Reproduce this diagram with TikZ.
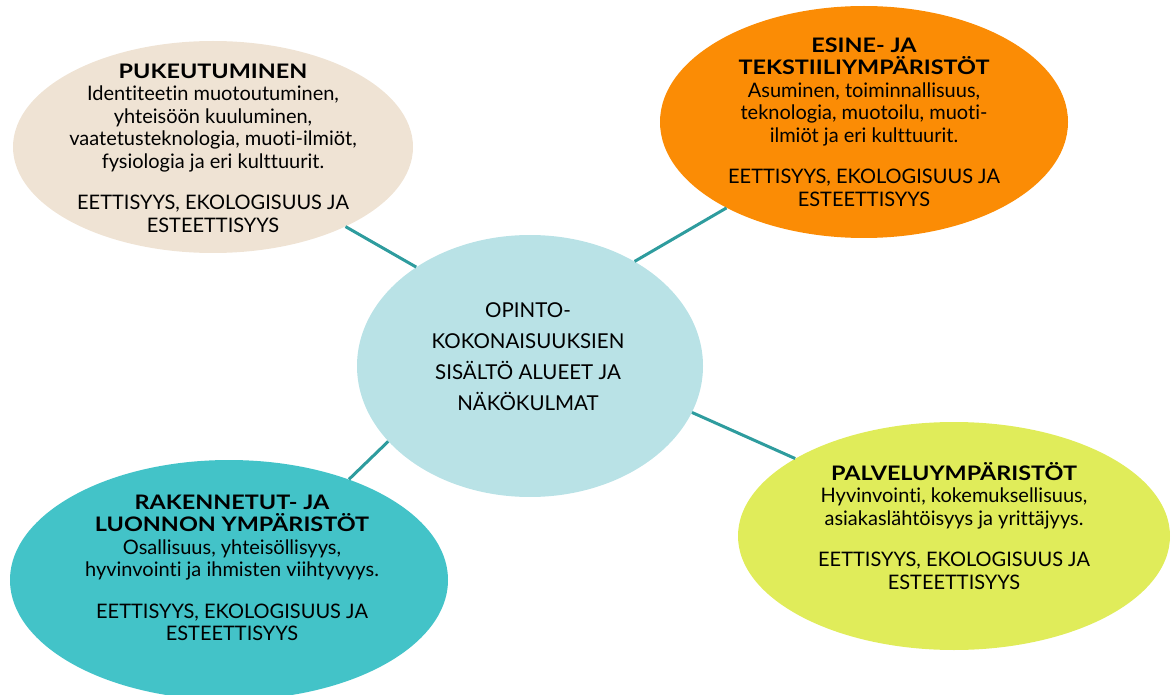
\documentclass[tikz,border=0pt]{standalone}
\usepackage{fontspec}
\usepackage{graphicx}
\setmainfont{Lato}[Ligatures=NoCommon]
\usetikzlibrary{shapes.geometric}
\definecolor{beigec}{HTML}{EFE3D4}
\definecolor{orangec}{HTML}{FB8C05}
\definecolor{hubc}{HTML}{B9E2E6}
\definecolor{tealc}{HTML}{43C3C8}
\definecolor{yellowc}{HTML}{E0EC5A}
\definecolor{linkc}{HTML}{2E9C9E}
\newcommand\ttl[1]{\scalebox{1.17}[1]{\textbf{#1}}}
\begin{document}
\begin{tikzpicture}[x=1pt,y=-1pt,
  blob/.style={ellipse, draw=none, inner sep=0pt},
  txt/.style={align=center, text=black, inner sep=0pt, font=\fontsize{20}{22.5}\selectfont},
  hubtxt/.style={align=center, text=black, inner sep=0pt, font=\fontsize{20.5}{31}\selectfont},
  link/.style={draw=linkc, line width=3pt}]
\useasboundingbox (0,0) rectangle (1176,695);
% ellipses
\node[blob, fill=beigec, minimum width=400pt, minimum height=212pt] (puk) at (213,147) {};
\node[blob, fill=orangec, minimum width=408pt, minimum height=232pt] (esine) at (864,122) {};
\node[blob, fill=hubc, minimum width=346pt, minimum height=262pt] (hub) at (530,366) {};
\node[blob, fill=tealc, minimum width=438pt, minimum height=240pt] (rak) at (229,580) {};
\node[blob, fill=yellowc, minimum width=432pt, minimum height=228pt] (palv) at (954,536) {};
% connectors
\draw[link] (puk.-31) -- (hub.139);
\draw[link] (hub.45.5) -- (esine.-148);
\draw[link] (hub.-16) -- (palv.154.6);
\draw[link] (hub.208.6) -- (rak.40.4);
% texts
\node[txt] (pukt) at (213,148) {\ttl{PUKEUTUMINEN}\\Identiteetin muotoutuminen,\\yhteisöön kuuluminen,\\vaatetusteknologia, muoti-ilmiöt,\\fysiologia ja eri kulttuurit.\\[19pt]EETTISYYS, EKOLOGISUUS JA\\ESTEETTISYYS};
\node[txt] (esinet) at (864,122) {\ttl{ESINE- JA}\\\ttl{TEKSTIILIYMPÄRISTÖT}\\Asuminen, toiminnallisuus,\\teknologia, muotoilu, muoti-\\ilmiöt ja eri kulttuurit.\\[19pt]EETTISYYS, EKOLOGISUUS JA\\ESTEETTISYYS};
\node[hubtxt] (hubt) at (528,357) {OPINTO-\\KOKONAISUUKSIEN\\SISÄLTÖ ALUEET JA\\NÄKÖKULMAT};
\node[txt] (rakt) at (232,568) {\ttl{RAKENNETUT- JA}\\\ttl{LUONNON YMPÄRISTÖT}\\Osallisuus, yhteisöllisyys,\\hyvinvointi ja ihmisten viihtyvyys.\\[19pt]EETTISYYS, EKOLOGISUUS JA\\ESTEETTISYYS};
\node[txt] (palvt) at (954,526) {\ttl{PALVELUYMPÄRISTÖT}\\Hyvinvointi, kokemuksellisuus,\\asiakaslähtöisyys ja yrittäjyys.\\[19pt]EETTISYYS, EKOLOGISUUS JA\\ESTEETTISYYS};
\end{tikzpicture}
\end{document}
